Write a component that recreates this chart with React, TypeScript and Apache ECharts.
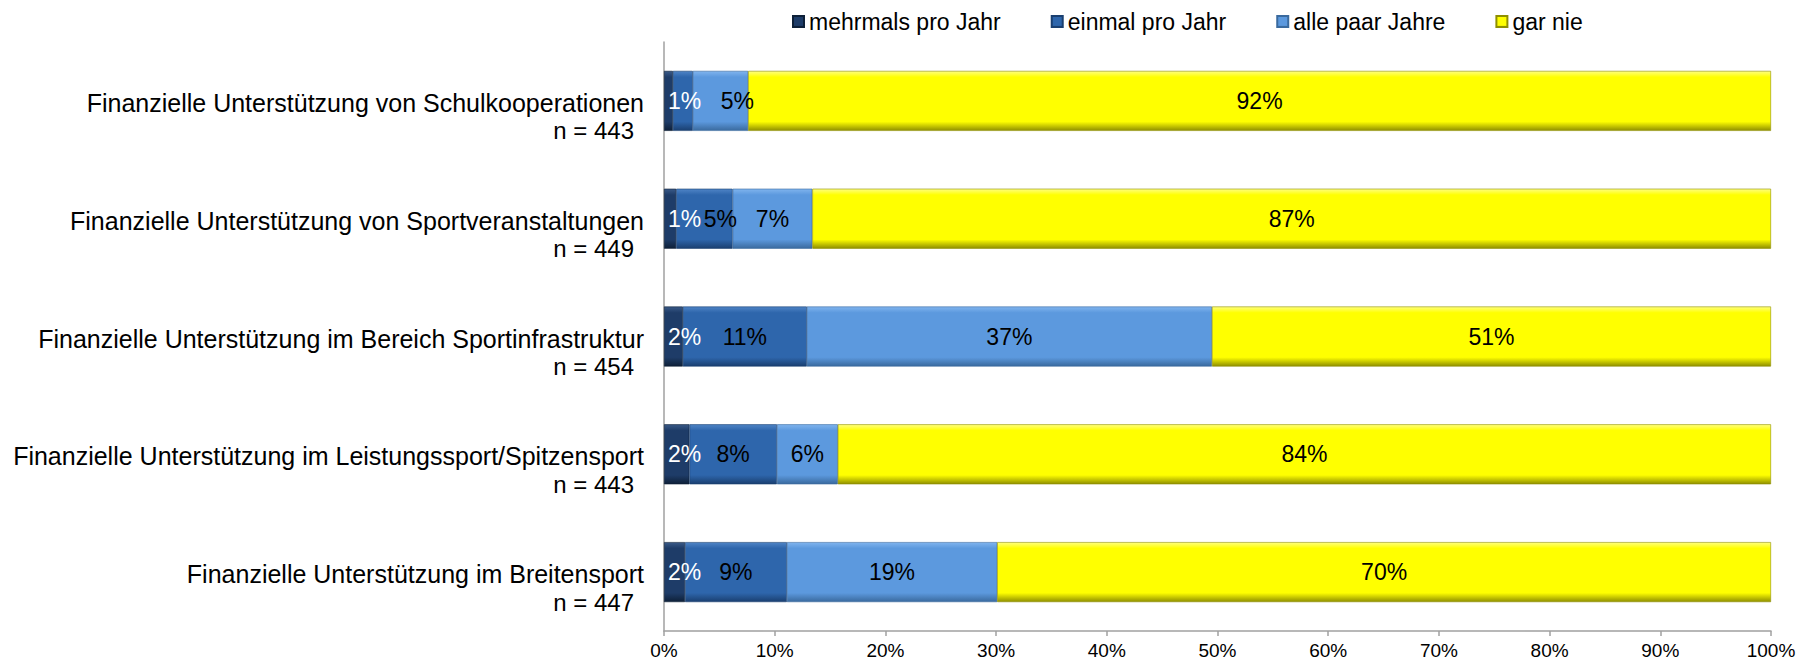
import React, { useEffect, useRef } from "react";
import * as echarts from "echarts";

const categories = [
  "Finanzielle Unterstützung von Schulkooperationen",
  "Finanzielle Unterstützung von Sportveranstaltungen",
  "Finanzielle Unterstützung im Bereich Sportinfrastruktur",
  "Finanzielle Unterstützung im Leistungssport/Spitzensport",
  "Finanzielle Unterstützung im Breitensport",
];
const sampleSizes = [443, 449, 454, 443, 447];

const seriesNames = ["mehrmals pro Jahr", "einmal pro Jahr", "alle paar Jahre", "gar nie"];

const mehrmals = [0.8, 1.1, 1.7, 2.3, 1.9];
const einmal = [1.8, 5.1, 11.2, 7.9, 9.2];
const allePaar = [5.0, 7.2, 36.6, 5.5, 19.0];
const garNie = [92.4, 86.6, 50.5, 84.3, 69.9];

const mehrmalsLabels = ["1%", "1%", "2%", "2%", "2%"];
const einmalLabels = ["", "5%", "11%", "8%", "9%"];
const allePaarLabels = ["5%", "7%", "37%", "6%", "19%"];
const garNieLabels = ["92%", "87%", "51%", "84%", "70%"];

const xTicks = [0, 10, 20, 30, 40, 50, 60, 70, 80, 90, 100];

const FONT = "'Liberation Sans', Arial, sans-serif";

// horizontal nudges (px) for labels that the original moved aside to avoid collisions
const LABEL_NUDGE: Record<number, Record<number, number>> = {
  1: { 1: 16 },
  2: { 0: 17 },
};

function bevel(top: string, base: string, bottom: string) {
  return new echarts.graphic.LinearGradient(0, 0, 0, 1, [
    { offset: 0, color: top },
    { offset: 0.1, color: base },
    { offset: 0.85, color: base },
    { offset: 1, color: bottom },
  ]);
}

export default function App() {
  const ref = useRef<HTMLDivElement>(null);

  useEffect(() => {
    if (!ref.current) return;
    const chart = echarts.init(ref.current, undefined, { renderer: "svg" });

    const seriesData = [mehrmals, einmal, allePaar, garNie];
    const seriesLabels = [mehrmalsLabels, einmalLabels, allePaarLabels, garNieLabels];
    const colors = [
      { top: "#3A5A88", base: "#1E3C68", bottom: "#0E2038", legend: "#1E3C68", label: "#FFFFFF" },
      { top: "#4F84C6", base: "#2E66AC", bottom: "#1A3F70", legend: "#2E66AC", label: "#000000" },
      { top: "#80B4EE", base: "#5C99DE", bottom: "#3A6A9E", legend: "#5C99DE", label: "#000000" },
      { top: "#FFFF80", base: "#FFFF00", bottom: "#8F8F00", legend: "#E6E600", label: "#000000" },
    ];

    const series = seriesNames.map((name, si) => ({
      name,
      type: "bar",
      stack: "total",
      barWidth: 60,
      data: seriesData[si].map((v, di) => {
        const nudge = LABEL_NUDGE[si] && LABEL_NUDGE[si][di];
        return nudge ? { value: v, label: { offset: [nudge, 0] } } : v;
      }),
      itemStyle: {
        color: bevel(colors[si].top, colors[si].base, colors[si].bottom),
        borderColor: colors[si].bottom,
        borderWidth: 0.6,
      },
      label: {
        show: true,
        position: si === 0 ? "insideLeft" : "inside",
        distance: 4,
        color: colors[si].label,
        fontSize: 23,
        fontFamily: FONT,
        formatter: (p: any) => seriesLabels[si][p.dataIndex],
      },
      emphasis: { disabled: true },
    }));

    chart.setOption({
      animation: false,
      color: colors.map((c) => c.legend),
      legend: {
        data: seriesNames,
        left: 787,
        top: 5,
        icon: "rect",
        itemWidth: 11,
        itemHeight: 11,
        itemGap: 50,
        textStyle: { fontSize: 23, fontFamily: FONT, color: "#000" },
      },
      grid: { left: 664, right: 30, top: 42, bottom: 35, containLabel: false },
      xAxis: {
        type: "value",
        min: xTicks[0],
        max: xTicks[xTicks.length - 1],
        interval: 10,
        axisLine: { show: true, lineStyle: { color: "#A0A0A0", width: 1.5 } },
        axisTick: { show: true, length: 5, lineStyle: { color: "#A0A0A0", width: 1.5 } },
        splitLine: { show: false },
        axisLabel: {
          formatter: "{value}%",
          fontSize: 19,
          fontFamily: FONT,
          color: "#000",
          margin: 10,
        },
      },
      yAxis: {
        type: "category",
        inverse: true,
        data: categories,
        axisLine: { show: true, lineStyle: { color: "#A0A0A0", width: 1.5 } },
        axisTick: { show: false },
        axisLabel: {
          margin: 20,
          formatter: (value: string, idx: number) =>
            `{e| }\n{a|${value}}\n{b|n = ${sampleSizes[idx]}}`,
          rich: {
            e: { fontSize: 24, lineHeight: 32, fontFamily: FONT },
            a: { fontSize: 25, lineHeight: 28, fontFamily: FONT, color: "#000", align: "right" },
            b: {
              fontSize: 24,
              lineHeight: 28,
              fontFamily: FONT,
              color: "#000",
              align: "right",
              padding: [0, 10, 0, 0],
            },
          },
        },
      },
      series,
    });

    return () => chart.dispose();
  }, []);

  return (
    <div
      ref={ref}
      style={{ position: "absolute", left: 0, top: 0, width: 1801, height: 666, background: "#fff" }}
    />
  );
}
